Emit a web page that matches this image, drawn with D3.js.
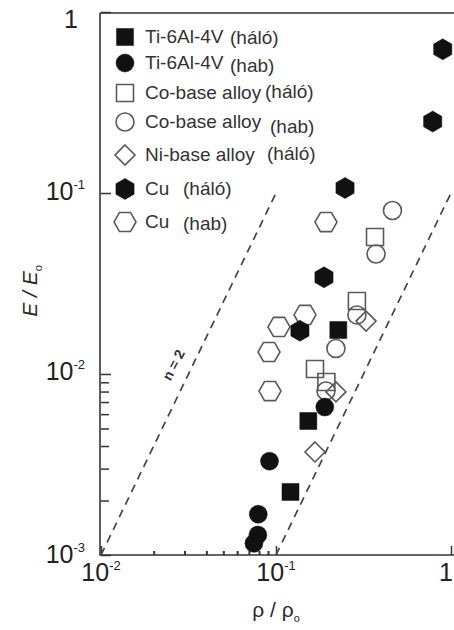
<!DOCTYPE html>
<html><head><meta charset="utf-8">
<script src="https://cdn.jsdelivr.net/npm/d3@7"></script>
<style>html,body{margin:0;padding:0;background:#fff;overflow:hidden}</style>
</head><body><svg id="chart" width="454" height="630"></svg>
<script>
// ---------- data ----------
const xMajorTicks = [0.01, 0.1, 1];
const xTickBase = ["10", "10", "1"];
const xTickExp = ["-2", "-1", ""];
const xMinorTicks = [0.02, 0.03, 0.04, 0.05, 0.06, 0.07, 0.08, 0.09];
const yMajorTicks = [0.001, 0.01, 0.1, 1];
const yTickBase = ["10", "10", "10", "1"];
const yTickExp = ["-3", "-2", "-1", ""];
const yMinorTicks = [0.002, 0.003, 0.004, 0.005, 0.006, 0.007, 0.008, 0.009];

const seriesMaterial = ["Ti-6Al-4V", "Ti-6Al-4V", "Co-base alloy", "Co-base alloy", "Ni-base alloy", "Cu", "Cu"];
const seriesCondition = ["(háló)", "(hab)", "(háló)", "(hab)", "(háló)", "(háló)", "(hab)"];

const tiLatticeX = [0.227, 0.153, 0.121];
const tiLatticeY = [0.0175, 0.0055, 0.00223];
const tiFoamX = [0.190, 0.0918, 0.0792, 0.0788, 0.0748];
const tiFoamY = [0.00657, 0.0033, 0.00168, 0.00129, 0.00116];
const coLatticeX = [0.368, 0.290, 0.167, 0.194];
const coLatticeY = [0.0571, 0.0253, 0.01066, 0.00903];
const coFoamX = [0.463, 0.373, 0.290, 0.220, 0.193];
const coFoamY = [0.080, 0.046, 0.0212, 0.01383, 0.00805];
const niLatticeX = [0.327, 0.220, 0.167];
const niLatticeY = [0.0196, 0.00796, 0.00371];
const cuLatticeX = [0.897, 0.786, 0.248, 0.188, 0.137];
const cuLatticeY = [0.622, 0.248, 0.1066, 0.0342, 0.01733];
const cuFoamX = [0.193, 0.1465, 0.104, 0.0912, 0.0924];
const cuFoamY = [0.0691, 0.0212, 0.0182, 0.01323, 0.00805];

const guideAX = [0.01, 0.1], guideAY = [0.001, 0.1];
const guideBX = [0.1, 1], guideBY = [0.001, 0.1];
const guideLabel = "n = 2";
const guideLabelX = 0.0275, guideLabelY = 0.0109;

// ---------- chart ----------
const svg = d3.select("#chart");
svg.append("rect").attr("width", 454).attr("height", 630).attr("fill", "#fff");
const x = d3.scaleLog().domain([0.01, 1]).range([101, 451]);
const y = d3.scaleLog().domain([0.001, 1]).range([555, 12]);

const ink = "#333";
const FONT = "'Liberation Sans', Arial, sans-serif";

// frame
svg.append("path")
  .attr("d", `M${x(0.01)-1},${y(1)+1}H460M${x(0.01)-1},${y(1)+1}V${y(0.001)}H460`)
  .attr("fill", "none").attr("stroke", ink).attr("stroke-width", 1.6);

// axes (ticks inward)
const gx = svg.append("g").attr("transform", `translate(0,${y(0.001)})`)
  .call(d3.axisBottom(x).tickValues(xMajorTicks).tickSizeInner(-9).tickSizeOuter(0).tickFormat(() => ""));
const gxm = svg.append("g").attr("transform", `translate(0,${y(0.001)})`)
  .call(d3.axisBottom(x).tickValues(xMinorTicks).tickSizeInner(-4).tickSizeOuter(0).tickFormat(() => ""));
const gy = svg.append("g").attr("transform", `translate(${x(0.01)},0)`)
  .call(d3.axisLeft(y).tickValues(yMajorTicks).tickSizeInner(-10).tickSizeOuter(0).tickFormat(() => ""));
const gym = svg.append("g").attr("transform", `translate(${x(0.01)},0)`)
  .call(d3.axisLeft(y).tickValues(yMinorTicks).tickSizeInner(-8).tickSizeOuter(0).tickFormat(() => ""));
[gx, gxm, gy, gym].forEach(g => {
  g.select(".domain").remove();
  g.selectAll(".tick line").attr("stroke", ink).attr("stroke-width", 1.5);
});
gxm.selectAll(".tick line").attr("stroke-width", 2);

// tick labels
const xl = svg.append("g").attr("font-family", FONT).attr("fill", "#222");
xMajorTicks.forEach((v, i) => {
  const last = i === xMajorTicks.length - 1;
  const t = xl.append("text").attr("x", last ? 453 : x(v)).attr("y", 581)
    .attr("text-anchor", last ? "end" : "middle").attr("font-size", 25);
  t.append("tspan").text(xTickBase[i]);
  if (xTickExp[i]) t.append("tspan").attr("font-size", 13).attr("dy", -11).text(xTickExp[i]);
});
const yNudge = [8, 6, 7, 16];
yMajorTicks.forEach((v, i) => {
  const t = xl.append("text").attr("x", 85).attr("y", y(v) + yNudge[i]).attr("text-anchor", "end").attr("font-size", 25);
  t.append("tspan").text(yTickBase[i]);
  if (yTickExp[i]) t.append("tspan").attr("font-size", 13).attr("dy", -11).text(yTickExp[i]);
  else t.attr("x", 78);
});

// axis titles
const yt = svg.append("text").attr("transform", "translate(37,291) rotate(-90)")
  .attr("text-anchor", "middle").attr("font-family", FONT).attr("font-size", 21).attr("fill", "#2a2a2a");
yt.append("tspan").attr("font-style", "italic").text("E / E");
yt.append("tspan").attr("font-size", 11).attr("dy", 5).text("o");
const xt = svg.append("text").attr("x", 276).attr("y", 617)
  .attr("text-anchor", "middle").attr("font-family", FONT).attr("font-size", 21).attr("fill", "#2a2a2a");
xt.append("tspan").text("ρ / ρ");
xt.append("tspan").attr("font-size", 11).attr("dy", 5).text("o");

// guide lines
const line = d3.line().x(d => x(d[0])).y(d => y(d[1]));
[[guideAX, guideAY], [guideBX, guideBY]].forEach(([gxv, gyv]) => {
  svg.append("path").attr("d", line(gxv.map((v, i) => [v, gyv[i]])))
    .attr("fill", "none").attr("stroke", "#444").attr("stroke-width", 1.7).attr("stroke-dasharray", "8,6");
});
svg.append("text").attr("transform", `translate(${x(guideLabelX)},${y(guideLabelY)}) rotate(-63)`)
  .attr("text-anchor", "middle").attr("font-family", FONT).attr("font-size", 14).attr("font-weight", "bold")
  .attr("fill", "#333").text(guideLabel);

// marker shapes
function poly(pts) { return d3.line()(pts) + "Z"; }
function hex(r, offDeg) { return poly(d3.range(6).map(k => { const a = (offDeg + 60 * k) * Math.PI / 180; return [r * Math.cos(a), r * Math.sin(a)]; })); }
const shapes = {
  square: poly([[-8.5, -8.5], [8.5, -8.5], [8.5, 8.5], [-8.5, 8.5]]),
  circle: d3.symbol(d3.symbolCircle, Math.PI * 81)(),
  diamond: poly([[0, -10], [10, 0], [0, 10], [-10, 0]]),
  hexFilled: hex(10.5, -90),
  hexOpen: hex(11, 0)
};

const series = [
  { xs: tiLatticeX, ys: tiLatticeY, shape: "square", filled: true },
  { xs: tiFoamX, ys: tiFoamY, shape: "circle", filled: true },
  { xs: coLatticeX, ys: coLatticeY, shape: "square", filled: false },
  { xs: coFoamX, ys: coFoamY, shape: "circle", filled: false },
  { xs: niLatticeX, ys: niLatticeY, shape: "diamond", filled: false },
  { xs: cuLatticeX, ys: cuLatticeY, shape: "hexFilled", filled: true },
  { xs: cuFoamX, ys: cuFoamY, shape: "hexOpen", filled: false }
].map((s, i) => Object.assign(s, { material: seriesMaterial[i], condition: seriesCondition[i] }));

function styleMarker(sel, s) {
  sel.attr("d", shapes[s.shape])
    .attr("fill", s.filled ? "#111" : "none")
    .attr("stroke", s.filled ? "#111" : "#5a5a5a")
    .attr("stroke-width", s.filled ? 0.5 : 1.6);
}

const drawOrder = [2, 3, 4, 6, 5, 0, 1];
drawOrder.forEach(i => {
  const s = series[i];
  const pts = s.xs.map((v, j) => [v, s.ys[j]]);
  svg.append("g").selectAll("path").data(pts).join("path")
    .attr("transform", d => `translate(${x(d[0])},${y(d[1])})`)
    .call(sel => styleMarker(sel, s));
});

// legend
const legendY = [37, 63, 93, 122, 155, 189, 222];
const legendCondX = [230, 230, 265, 270, 267, 183, 183];
const legendCondDy = [1, 3, -1, 5, -1, 0, 2];
const lg = svg.append("g").attr("font-family", FONT).attr("font-size", 19).attr("fill", "#333");
series.forEach((s, i) => {
  const g = lg.append("g").attr("transform", `translate(0,${legendY[i]})`);
  g.append("path").attr("transform", "translate(125,0)").call(sel => styleMarker(sel, s));
  g.append("text").attr("x", 145).attr("y", 6).text(s.material);
  g.append("text").attr("x", legendCondX[i]).attr("y", 6 + legendCondDy[i]).text(s.condition);
});
</script>
</body></html>
